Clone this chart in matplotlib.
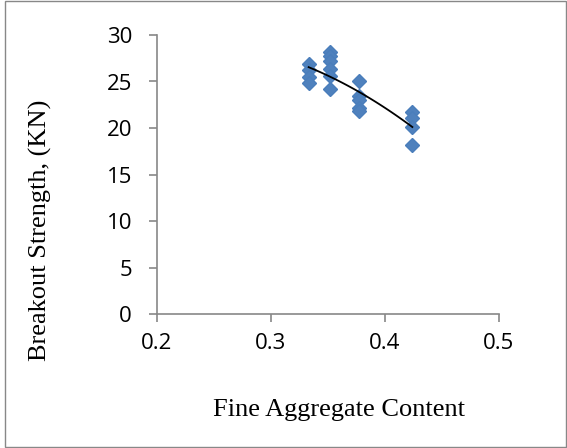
import numpy as np
import matplotlib.pyplot as plt
from matplotlib.patches import Rectangle

# fine aggregate content vs breakout strength (kN)
fa = [0.333, 0.333, 0.333, 0.333,
      0.352, 0.352, 0.352, 0.352, 0.352, 0.352,
      0.377, 0.377, 0.377, 0.377, 0.377,
      0.424, 0.424, 0.424, 0.424]
strength = [26.9, 26.2, 25.5, 24.8,
            28.2, 27.7, 27.2, 26.3, 25.6, 24.2,
            25.0, 23.4, 23.0, 22.2, 21.8,
            21.7, 21.1, 20.1, 18.2]

xticks = [0.2, 0.3, 0.4, 0.5]
yticks = [0, 5, 10, 15, 20, 25, 30]

fig = plt.figure(figsize=(5.67, 4.48), dpi=100)
ax = fig.add_axes([157 / 567, 1 - 314 / 448, 342 / 567, 279 / 448])

ax.plot(fa, strength, linestyle='none', marker='D', markersize=7.5,
        color='#4F81BD', markeredgecolor='#4A7EBB')

# 2nd order poly trendline
coef = np.polyfit(fa, strength, 2)
xs = np.linspace(min(fa), max(fa), 100)
ax.plot(xs, np.polyval(coef, xs), color='black', linewidth=1.3)

ax.set_xlim(0.2, 0.5)
ax.set_ylim(0, 30)
ax.set_xticks(xticks)
ax.set_yticks(yticks)
ax.set_xticklabels(['0.2', '0.3', '0.4', '0.5'])
for s in ['top', 'right']:
    ax.spines[s].set_visible(False)
for s in ['left', 'bottom']:
    ax.spines[s].set_color('#888888')
    ax.spines[s].set_linewidth(1.2)
ax.tick_params(axis='both', color='#888888', width=1.2, length=6, direction='out',
               labelsize=16)
ax.tick_params(axis='y', pad=12)
ax.tick_params(axis='x', pad=8)
for lab in ax.get_xticklabels() + ax.get_yticklabels():
    lab.set_fontfamily('Open Sans')

fig.text(40 / 567, 1 - 230 / 448, 'Breakout Strength, (KN)', rotation=90,
         ha='center', va='center', fontsize=19, family='Liberation Serif')
fig.text(339 / 567, 1 - 410 / 448, 'Fine Aggregate Content',
         ha='center', va='center', fontsize=19, family='Liberation Serif')

fig.patches.append(Rectangle((0.008, 0.002), 0.99, 0.996, transform=fig.transFigure,
                             fill=False, edgecolor='#888888', linewidth=1))

fig.savefig('out.png', dpi=100)
